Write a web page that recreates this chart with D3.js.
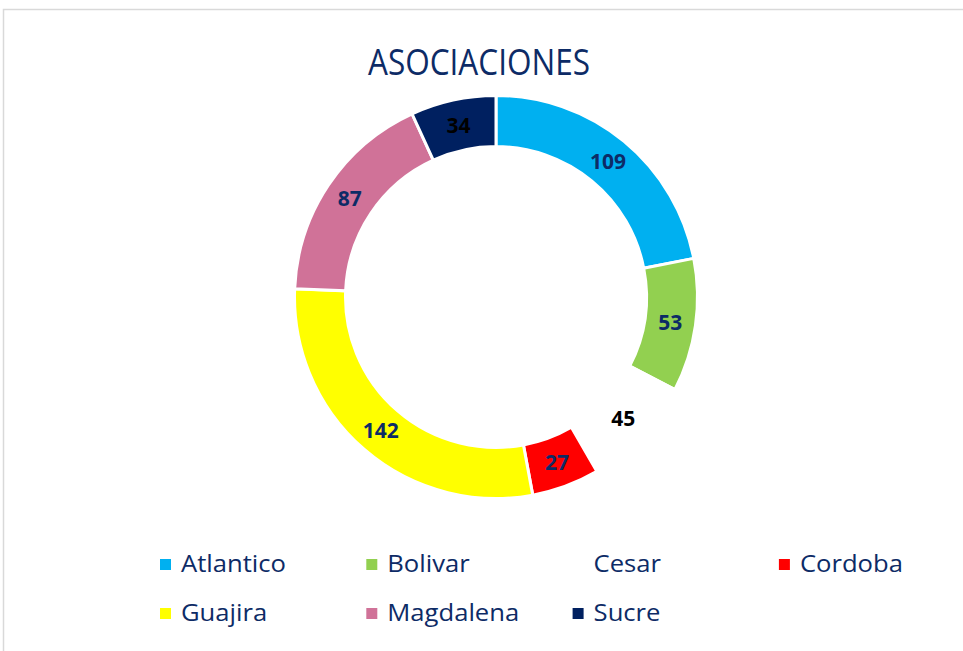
<!DOCTYPE html>
<html>
<head>
<meta charset="utf-8">
<script src="https://cdn.jsdelivr.net/npm/d3@7"></script>
<style>
  html, body { margin: 0; padding: 0; background: #fff; }
  text { font-family: "Open Sans", "Noto Sans", sans-serif; }
</style>
</head>
<body>
<div id="chart"></div>
<script>
const WIDTH = 963
const HEIGHT = 651

const categories = ['Atlantico', 'Bolivar', 'Cesar', 'Cordoba', 'Guajira', 'Magdalena', 'Sucre']
const values = [109, 53, 45, 27, 142, 87, 34]
const colors = ['#00B0F0', '#92D050', '#FFFFFF', '#FF0000', '#FFFF00', '#D07298', '#002060']
const labelColors = ['#0d2b66', '#0d2b66', '#000000', '#0d2b66', '#0d2b66', '#0d2b66', '#000000']
const title = 'ASOCIACIONES'

const navy = '#0d2b66'
const cx = 496
const cy = 297
const outerR = 200
const innerR = 152

const data = categories.map((c, i) => ({ name: c, value: values[i], color: colors[i], label: labelColors[i] }))

const svg = d3.select('#chart')
  .append('svg')
  .attr('width', WIDTH)
  .attr('height', HEIGHT)

// chart frame
svg.append('rect')
  .attr('x', 3.5)
  .attr('y', 9.5)
  .attr('width', WIDTH + 20)
  .attr('height', HEIGHT + 20)
  .attr('fill', '#fff')
  .attr('stroke', '#d9d9d9')
  .attr('stroke-width', 1.5)

// title
svg.append('text')
  .attr('x', 479)
  .attr('y', 75)
  .attr('text-anchor', 'middle')
  .attr('font-size', 37)
  .attr('fill', navy)
  .attr('textLength', 222)
  .attr('lengthAdjust', 'spacingAndGlyphs')
  .text(title)

const pie = d3.pie()
  .value(d => d.value)
  .sort(null)

const arc = d3.arc()
  .innerRadius(innerR - 1.5)
  .outerRadius(outerR + 1.5)

const labelArc = d3.arc()
  .innerRadius((outerR + innerR) / 2)
  .outerRadius((outerR + innerR) / 2)

const g = svg.append('g')
  .attr('transform', `translate(${cx}, ${cy})`)

const arcs = pie(data)

g.selectAll('path')
  .data(arcs)
  .join('path')
  .attr('d', arc)
  .attr('fill', d => d.data.color)
  .attr('stroke', '#fff')
  .attr('stroke-width', 3)

g.selectAll('text')
  .data(arcs)
  .join('text')
  .attr('transform', d => `translate(${labelArc.centroid(d)})`)
  .attr('text-anchor', 'middle')
  .attr('dy', '0.36em')
  .attr('font-size', 21)
  .attr('font-weight', 'bold')
  .attr('fill', d => d.data.label)
  .text(d => d.data.value)

// legend
const legend = svg.append('g')
const colW = 206.3
const rows = [572, 621]

const items = legend.selectAll('g')
  .data(data)
  .join('g')
  .attr('transform', (d, i) => `translate(${160 + (i % 4) * colW}, ${rows[Math.floor(i / 4)]})`)

items.append('rect')
  .attr('x', 0)
  .attr('y', -13)
  .attr('width', 11)
  .attr('height', 11)
  .attr('fill', d => d.color)

const legendText = items.append('text')
  .attr('x', 21)
  .attr('y', 0)
  .attr('font-size', 24)
  .attr('fill', navy)
  .text(d => d.name)

// squeeze legend text to the narrow face of the original
const ref = legendText.nodes()[0].getComputedTextLength()
const ratio = 105 / ref
legendText.each(function () {
  const w = this.getComputedTextLength()
  d3.select(this)
    .attr('textLength', w * ratio)
    .attr('lengthAdjust', 'spacingAndGlyphs')
})
</script>
</body>
</html>
